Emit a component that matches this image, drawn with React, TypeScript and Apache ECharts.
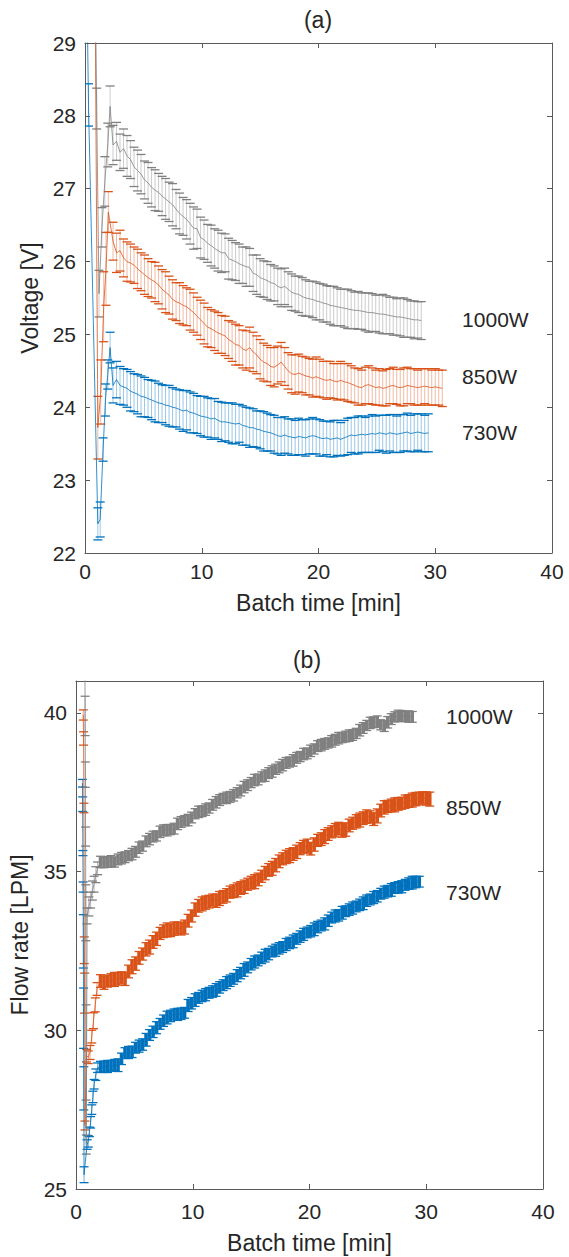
import React, { useEffect, useRef } from "react";
import * as echarts from "echarts";

// ---------- Panel (a): Voltage [V] vs Batch time [min] ----------
const TIME_A = [
  2.4, 2.7, 3.0, 3.3, 3.6, 3.9, 4.2, 4.5, 4.8, 5.1,
  5.4, 5.7, 6.0, 6.3, 6.6, 6.9, 7.2, 7.5, 7.8, 8.1,
  8.4, 8.7, 9.0, 9.3, 9.6, 9.9, 10.2, 10.5, 10.8, 11.1,
  11.4, 11.7, 12.0, 12.3, 12.6, 12.9, 13.2, 13.5, 13.8, 14.1,
  14.4, 14.7, 15.0, 15.3, 15.6, 15.9, 16.2, 16.5, 16.8, 17.1,
  17.4, 17.7, 18.0, 18.3, 18.6, 18.9, 19.2, 19.5, 19.8, 20.1,
  20.4, 20.7, 21.0, 21.3, 21.6, 21.9, 22.2, 22.5, 22.8, 23.1,
  23.4, 23.7, 24.0, 24.3, 24.6, 24.9, 25.2, 25.5, 25.8, 26.1,
  26.4, 26.7, 27.0, 27.3, 27.6, 27.9, 28.2, 28.5, 28.8, 29.1,
  29.4, 29.7, 30.0, 30.3, 30.6,
];

// early transient points: [time, mean, half error]
const V1000_EARLY = [[0.8, 31.0, 0.5], [1.0, 28.1, 0.28], [1.2, 25.56, 0.32], [1.45, 26.47, 0.27], [1.7, 27.1, 0.34], [1.95, 27.6, 0.3], [2.15, 28.13, 0.28]];
const V850_EARLY = [[0.8, 31.5, 0.5], [1.1, 23.72, 0.43], [1.35, 24.21, 0.44], [1.6, 25.38, 0.48], [1.8, 25.9, 0.5], [2.0, 26.68, 0.28]];
const V730_EARLY = [[0.1, 30.5, 0.5], [0.3, 28.15, 0.29], [1.1, 22.4, 0.22], [1.3, 22.46, 0.24], [1.55, 23.42, 0.16], [1.75, 24.1, 0.22], [1.95, 24.45, 0.2], [2.15, 24.82, 0.21]];

const V1000 = [
  27.6, 27.65, 27.5, 27.55, 27.45, 27.4, 27.3, 27.25, 27.2, 27.12,
  27.08, 27.02, 26.98, 26.95, 26.9, 26.86, 26.82, 26.78, 26.72, 26.66,
  26.62, 26.58, 26.52, 26.46, 26.45, 26.33, 26.3, 26.25, 26.22, 26.18,
  26.15, 26.12, 26.12, 26.04, 26.02, 26.0, 25.97, 25.95, 25.93, 25.92,
  25.84, 25.82, 25.78, 25.76, 25.74, 25.71, 25.7, 25.66, 25.64, 25.66,
  25.62, 25.58, 25.56, 25.55, 25.52, 25.5, 25.49, 25.48, 25.46, 25.45,
  25.43, 25.42, 25.4, 25.39, 25.38, 25.37, 25.36, 25.35, 25.34, 25.33,
  25.33, 25.32, 25.31, 25.3, 25.3, 25.29, 25.28, 25.28, 25.27, 25.26,
  25.25, 25.24, 25.24, 25.23, 25.22, 25.21, 25.2, 25.2, 25.19,
];
const V1000_ERR = [
  0.27, 0.26, 0.25, 0.27, 0.28, 0.26, 0.27, 0.28, 0.27, 0.26,
  0.28, 0.27, 0.28, 0.26, 0.27, 0.28, 0.27, 0.29, 0.27, 0.28,
  0.26, 0.27, 0.28, 0.29, 0.27, 0.28, 0.27, 0.26, 0.28, 0.27,
  0.28, 0.27, 0.26, 0.28, 0.27, 0.26, 0.27, 0.25, 0.27, 0.26,
  0.25, 0.27, 0.26, 0.25, 0.26, 0.25, 0.24, 0.25, 0.26, 0.25,
  0.24, 0.25, 0.24, 0.25, 0.26, 0.25, 0.24, 0.25, 0.26, 0.25,
  0.26, 0.25, 0.26, 0.27, 0.26, 0.25, 0.26, 0.27, 0.26, 0.25,
  0.26, 0.25, 0.26, 0.27, 0.26, 0.25, 0.26, 0.27, 0.26, 0.25,
  0.26, 0.25, 0.26, 0.27, 0.26, 0.25, 0.26, 0.25, 0.26,
];
const V850 = [
  26.28, 26.12, 26.15, 26.05, 26.0, 25.98, 25.95, 25.9, 25.86, 25.82,
  25.78, 25.75, 25.72, 25.68, 25.62, 25.58, 25.54, 25.48, 25.45, 25.43,
  25.4, 25.38, 25.34, 25.3, 25.25, 25.2, 25.15, 25.1, 25.08, 25.05,
  25.02, 25.0, 24.98, 24.93, 24.9, 24.86, 24.85, 24.8, 24.78, 24.82,
  24.76, 24.72, 24.66, 24.62, 24.6, 24.56, 24.55, 24.58, 24.62, 24.56,
  24.5, 24.46, 24.45, 24.47, 24.45, 24.43, 24.42, 24.4, 24.42, 24.4,
  24.38, 24.37, 24.38, 24.36, 24.35, 24.37, 24.35, 24.34, 24.32, 24.3,
  24.28, 24.27, 24.3, 24.31, 24.29, 24.27, 24.28, 24.26, 24.27, 24.29,
  24.3, 24.28, 24.27, 24.28, 24.3, 24.29, 24.28, 24.27, 24.28, 24.29,
  24.28, 24.27, 24.28, 24.27, 24.26,
];
const V850_ERR = [
  0.26, 0.27, 0.28, 0.26, 0.27, 0.26, 0.25, 0.27, 0.26, 0.27,
  0.26, 0.25, 0.27, 0.26, 0.27, 0.28, 0.26, 0.27, 0.26, 0.28,
  0.27, 0.26, 0.28, 0.27, 0.26, 0.27, 0.28, 0.27, 0.26, 0.27,
  0.28, 0.26, 0.27, 0.26, 0.27, 0.28, 0.27, 0.26, 0.27, 0.28,
  0.27, 0.26, 0.27, 0.26, 0.25, 0.26, 0.27, 0.26, 0.27, 0.26,
  0.25, 0.26, 0.27, 0.26, 0.25, 0.26, 0.25, 0.26, 0.27, 0.26,
  0.25, 0.26, 0.25, 0.24, 0.25, 0.26, 0.25, 0.26, 0.25, 0.24,
  0.25, 0.24, 0.25, 0.26, 0.25, 0.24, 0.25, 0.24, 0.25, 0.24,
  0.25, 0.24, 0.25, 0.26, 0.25, 0.24, 0.25, 0.24, 0.25, 0.24,
  0.25, 0.24, 0.25, 0.24, 0.25,
];
const V730 = [
  24.3, 24.38, 24.3, 24.28, 24.26, 24.22, 24.2, 24.18, 24.15, 24.14,
  24.12, 24.1, 24.08, 24.06, 24.05, 24.03, 24.02, 24.0, 23.99, 23.97,
  23.95, 23.96, 23.93, 23.92, 23.9, 23.88, 23.87, 23.86, 23.84, 23.85,
  23.82, 23.8, 23.8, 23.79, 23.78, 23.77, 23.78, 23.75, 23.74, 23.72,
  23.72, 23.7, 23.69, 23.67, 23.66, 23.65, 23.63, 23.61, 23.6, 23.62,
  23.6, 23.59, 23.58, 23.6, 23.59, 23.58, 23.6, 23.61, 23.6, 23.58,
  23.57, 23.58, 23.56, 23.57, 23.58, 23.56, 23.58, 23.6, 23.62, 23.61,
  23.62, 23.63, 23.62, 23.63, 23.64, 23.63, 23.65, 23.64, 23.63, 23.65,
  23.64, 23.63, 23.64, 23.65, 23.66, 23.64, 23.65, 23.66, 23.65, 23.64,
  23.65,
];
const V730_ERR = [
  0.24, 0.25, 0.26, 0.25, 0.26, 0.27, 0.26, 0.27, 0.28, 0.27,
  0.26, 0.27, 0.28, 0.27, 0.26, 0.27, 0.28, 0.27, 0.26, 0.27,
  0.28, 0.27, 0.28, 0.27, 0.26, 0.27, 0.28, 0.27, 0.28, 0.27,
  0.26, 0.27, 0.26, 0.27, 0.28, 0.27, 0.26, 0.27, 0.26, 0.27,
  0.26, 0.25, 0.26, 0.27, 0.26, 0.25, 0.26, 0.25, 0.26, 0.25,
  0.24, 0.25, 0.24, 0.25, 0.24, 0.25, 0.24, 0.25, 0.24, 0.25,
  0.24, 0.23, 0.24, 0.25, 0.24, 0.23, 0.24, 0.25, 0.24, 0.25,
  0.26, 0.25, 0.24, 0.25, 0.26, 0.25, 0.24, 0.25, 0.26, 0.25,
  0.26, 0.25, 0.26, 0.25, 0.26, 0.25, 0.26, 0.25, 0.26, 0.25,
  0.26,
];

// ---------- Panel (b): Flow rate [LPM] vs Batch time [min] ----------
const TIME_B = [
  2.1, 2.4, 2.7, 3.0, 3.3, 3.6, 3.9, 4.2, 4.5, 4.8,
  5.1, 5.4, 5.7, 6.0, 6.3, 6.6, 6.9, 7.2, 7.5, 7.8,
  8.1, 8.4, 8.7, 9.0, 9.3, 9.6, 9.9, 10.2, 10.5, 10.8,
  11.1, 11.4, 11.7, 12.0, 12.3, 12.6, 12.9, 13.2, 13.5, 13.8,
  14.1, 14.4, 14.7, 15.0, 15.3, 15.6, 15.9, 16.2, 16.5, 16.8,
  17.1, 17.4, 17.7, 18.0, 18.3, 18.6, 18.9, 19.2, 19.5, 19.8,
  20.1, 20.4, 20.7, 21.0, 21.3, 21.6, 21.9, 22.2, 22.5, 22.8,
  23.1, 23.4, 23.7, 24.0, 24.3, 24.6, 24.9, 25.2, 25.5, 25.8,
  26.1, 26.4, 26.7, 27.0, 27.3, 27.6, 27.9, 28.2, 28.5, 28.8,
  29.1, 29.4, 29.7, 30.0, 30.3,
];
const F1000_EARLY = [[0.76, 42.0, 0.4], [0.78, 39.9, 0.62], [0.8, 38.05, 0.4], [0.82, 36.1, 0.3], [0.84, 33.7, 0.88], [0.86, 29.3, 1.5], [0.88, 26.4, 0.3], [0.95, 33.6, 0.25], [1.1, 33.9, 0.3], [1.25, 34.1, 0.25], [1.4, 34.4, 0.3], [1.55, 34.6, 0.25], [1.7, 34.9, 0.25], [1.85, 35.1, 0.2]];
const F850_EARLY = [[0.62, 39.93, 0.16], [0.65, 39.19, 0.21], [0.68, 37.0, 0.15], [0.71, 32.52, 0.42], [0.74, 31.17, 0.63], [0.77, 27.0, 0.14], [0.9, 29.2, 0.2], [1.05, 29.15, 0.2], [1.2, 29.3, 0.22], [1.35, 29.8, 0.2], [1.5, 30.3, 0.25], [1.65, 30.8, 0.22], [1.8, 31.3, 0.2]];
const F730_EARLY = [[0.55, 37.78, 0.12], [0.57, 37.12, 0.23], [0.59, 35.58, 0.08], [0.61, 34.51, 0.16], [0.63, 32.8, 0.84], [0.65, 30.38, 0.95], [0.67, 28.17, 0.68], [0.69, 25.45, 0.25], [0.95, 26.4, 0.15], [1.05, 26.5, 0.18], [1.15, 26.8, 0.15], [1.25, 27.1, 0.18], [1.35, 27.5, 0.15], [1.45, 27.9, 0.18], [1.55, 28.3, 0.15], [1.7, 28.6, 0.18], [1.85, 28.82, 0.15]];

const F1000 = [
  35.3, 35.28, 35.3, 35.32, 35.3, 35.38, 35.42, 35.45, 35.5, 35.55,
  35.62, 35.75, 35.8, 35.95, 36.02, 36.1, 36.12, 36.25, 36.3, 36.3,
  36.32, 36.35, 36.5, 36.56, 36.6, 36.62, 36.7, 36.82, 36.88, 36.9,
  36.95, 37.0, 37.1, 37.18, 37.25, 37.3, 37.32, 37.35, 37.4, 37.48,
  37.55, 37.66, 37.72, 37.8, 37.88, 37.9, 37.98, 38.02, 38.1, 38.15,
  38.22, 38.28, 38.35, 38.42, 38.45, 38.5, 38.58, 38.62, 38.7, 38.72,
  38.8, 38.86, 38.95, 38.98, 39.02, 39.05, 39.1, 39.15, 39.2, 39.22,
  39.25, 39.28, 39.3, 39.35, 39.45, 39.52, 39.6, 39.68, 39.7, 39.72,
  39.62, 39.58, 39.7, 39.8, 39.87, 39.9, 39.9, 39.88, 39.88, 39.87,
];
const F1000_ERR = [
  0.18, 0.16, 0.17, 0.18, 0.16, 0.17, 0.18, 0.17, 0.16, 0.18,
  0.17, 0.18, 0.16, 0.17, 0.18, 0.17, 0.16, 0.18, 0.17, 0.18,
  0.16, 0.17, 0.18, 0.17, 0.16, 0.18, 0.17, 0.16, 0.18, 0.17,
  0.18, 0.16, 0.17, 0.18, 0.17, 0.16, 0.18, 0.17, 0.18, 0.16,
  0.17, 0.18, 0.17, 0.16, 0.18, 0.17, 0.16, 0.18, 0.17, 0.18,
  0.16, 0.17, 0.18, 0.17, 0.16, 0.18, 0.17, 0.16, 0.18, 0.17,
  0.18, 0.16, 0.17, 0.18, 0.17, 0.16, 0.18, 0.17, 0.18, 0.16,
  0.17, 0.18, 0.17, 0.16, 0.18, 0.17, 0.16, 0.18, 0.17, 0.18,
  0.16, 0.17, 0.18, 0.17, 0.16, 0.18, 0.17, 0.16, 0.18, 0.17,
];
const F850 = [
  31.55, 31.5, 31.55, 31.58, 31.6, 31.62, 31.65, 31.62, 31.85, 32.0,
  32.1, 32.28, 32.4, 32.55, 32.62, 32.78, 32.88, 33.05, 33.12, 33.16,
  33.15, 33.2, 33.22, 33.2, 33.25, 33.45, 33.6, 33.8, 33.92, 33.98,
  34.02, 34.05, 34.1, 34.08, 34.15, 34.2, 34.25, 34.35, 34.38, 34.42,
  34.48, 34.52, 34.6, 34.65, 34.68, 34.75, 34.85, 34.95, 35.05, 35.1,
  35.2, 35.32, 35.4, 35.46, 35.5, 35.55, 35.62, 35.72, 35.78, 35.8,
  35.72, 35.85, 35.98, 36.02, 36.1, 36.18, 36.25, 36.3, 36.35, 36.3,
  36.32, 36.45, 36.52, 36.58, 36.62, 36.68, 36.73, 36.72, 36.65, 36.75,
  36.92, 37.02, 37.05, 37.08, 37.1, 37.13, 37.15, 37.2, 37.22, 37.25,
  37.28, 37.3, 37.32, 37.3, 37.28,
];
const F850_ERR = [
  0.2, 0.21, 0.19, 0.2, 0.22, 0.2, 0.19, 0.21, 0.2, 0.22,
  0.21, 0.2, 0.19, 0.21, 0.22, 0.2, 0.21, 0.19, 0.2, 0.22,
  0.2, 0.21, 0.19, 0.2, 0.22, 0.2, 0.19, 0.21, 0.2, 0.22,
  0.21, 0.2, 0.19, 0.21, 0.22, 0.2, 0.21, 0.19, 0.2, 0.22,
  0.2, 0.21, 0.19, 0.2, 0.22, 0.2, 0.19, 0.21, 0.2, 0.22,
  0.21, 0.2, 0.19, 0.21, 0.22, 0.2, 0.21, 0.19, 0.2, 0.22,
  0.2, 0.21, 0.19, 0.2, 0.22, 0.2, 0.19, 0.21, 0.2, 0.22,
  0.21, 0.2, 0.19, 0.21, 0.22, 0.2, 0.21, 0.19, 0.2, 0.22,
  0.2, 0.21, 0.19, 0.2, 0.22, 0.2, 0.19, 0.21, 0.2, 0.22,
  0.21, 0.2, 0.19, 0.21, 0.22,
];
const F730 = [
  28.85, 28.85, 28.86, 28.88, 28.9, 28.9, 29.1, 29.28, 29.3, 29.32,
  29.45, 29.5, 29.55, 29.7, 29.85, 29.95, 30.08, 30.2, 30.3, 30.4,
  30.45, 30.5, 30.5, 30.52, 30.55, 30.78, 30.85, 30.95, 31.02, 31.08,
  31.12, 31.18, 31.22, 31.27, 31.35, 31.42, 31.5, 31.56, 31.62, 31.72,
  31.8, 31.9, 31.98, 32.08, 32.15, 32.2, 32.28, 32.35, 32.4, 32.48,
  32.52, 32.58, 32.62, 32.7, 32.75, 32.8, 32.88, 32.95, 33.02, 33.08,
  33.12, 33.18, 33.25, 33.3, 33.35, 33.45, 33.55, 33.6, 33.62, 33.7,
  33.75, 33.8, 33.85, 33.9, 33.95, 34.0, 34.08, 34.12, 34.18, 34.22,
  34.3, 34.35, 34.38, 34.42, 34.48, 34.5, 34.52, 34.58, 34.62, 34.65,
  34.67, 34.68,
];
const F730_ERR = [
  0.17, 0.18, 0.19, 0.17, 0.18, 0.2, 0.18, 0.17, 0.19, 0.18,
  0.17, 0.19, 0.18, 0.2, 0.17, 0.18, 0.19, 0.17, 0.18, 0.2,
  0.18, 0.17, 0.19, 0.18, 0.17, 0.19, 0.18, 0.2, 0.17, 0.18,
  0.19, 0.17, 0.18, 0.2, 0.18, 0.17, 0.19, 0.18, 0.17, 0.19,
  0.18, 0.2, 0.17, 0.18, 0.19, 0.17, 0.18, 0.2, 0.18, 0.17,
  0.19, 0.18, 0.17, 0.19, 0.18, 0.2, 0.17, 0.18, 0.19, 0.17,
  0.18, 0.2, 0.18, 0.17, 0.19, 0.18, 0.17, 0.19, 0.18, 0.2,
  0.17, 0.18, 0.19, 0.17, 0.18, 0.2, 0.18, 0.17, 0.19, 0.18,
  0.17, 0.19, 0.18, 0.2, 0.17, 0.18, 0.19, 0.17, 0.18, 0.2,
  0.18, 0.17,
];

// Labels and annotation anchors (data coordinates)
const X_TICKS = { min: 0, max: 40, interval: 10 };
const POWER_LABELS = ["1000W", "850W", "730W"];
const LABEL_POS_A = [[32.3, 25.2], [32.3, 24.42], [32.3, 23.65]];
const LABEL_POS_B = [[31.7, 39.87], [31.7, 37.03], [31.7, 34.35]];

const GRAY = "#808080";
const ORANGE = "#D95319";
const BLUE = "#0072BD";
const FONT = "'Liberation Sans', Arial, Helvetica, sans-serif";
const TXT = "#262626";
const AXC = "#5a5a5a";
const TICK_FS = 21;
const LABEL_FS = 23;

function bulk(times: number[], vals: number[], errs: number[]) {
  const n = Math.min(times.length, vals.length, errs.length);
  const out: number[][] = [];
  for (let i = 0; i < n; i++) out.push([times[i], vals[i], errs[i]]);
  return out;
}

function errRender(color: string, capW: number, vWidth: number, vOpacity: number) {
  return (_params: any, api: any) => {
    const t = api.value(0);
    const v = api.value(1);
    const e = api.value(2);
    const hi = api.coord([t, v + e]);
    const lo = api.coord([t, v - e]);
    const h = capW / 2;
    return {
      type: "group",
      children: [
        { type: "line", shape: { x1: hi[0], y1: hi[1], x2: lo[0], y2: lo[1] }, style: { stroke: color, lineWidth: vWidth, opacity: vOpacity } },
        { type: "line", shape: { x1: hi[0] - h, y1: hi[1], x2: hi[0] + h, y2: hi[1] }, style: { stroke: color, lineWidth: 1.3 } },
        { type: "line", shape: { x1: lo[0] - h, y1: lo[1], x2: lo[0] + h, y2: lo[1] }, style: { stroke: color, lineWidth: 1.3 } },
      ],
    };
  };
}

function errSeries(data: number[][], color: string, axis: number, capW: number, vWidth: number, vOpacity: number) {
  return {
    type: "custom",
    xAxisIndex: axis,
    yAxisIndex: axis,
    data,
    clip: true,
    silent: true,
    encode: { x: 0, y: 1 },
    renderItem: errRender(color, capW, vWidth, vOpacity),
    z: 2,
  };
}

function meanSeries(data: number[][], color: string, axis: number) {
  return {
    type: "line",
    xAxisIndex: axis,
    yAxisIndex: axis,
    data: data.map((d) => [d[0], d[1]]),
    showSymbol: false,
    symbol: "none",
    clip: true,
    silent: true,
    lineStyle: { color, width: 0.8 },
    z: 3,
  };
}

function xAxisCfg(grid: number, pos: string, main: boolean, labelMargin: number, nameGap: number) {
  return {
    type: "value",
    gridIndex: grid,
    position: pos,
    ...X_TICKS,
    axisLine: { show: true, onZero: false, lineStyle: { color: AXC, width: 1 } },
    axisTick: { show: true, inside: true, length: 5, lineStyle: { color: AXC, width: 1 } },
    axisLabel: { show: main, color: TXT, fontFamily: FONT, fontSize: TICK_FS, margin: labelMargin },
    splitLine: { show: false },
    name: main ? "Batch time [min]" : "",
    nameLocation: "middle",
    nameGap,
    nameTextStyle: { color: TXT, fontFamily: FONT, fontSize: LABEL_FS },
  };
}

function yAxisCfg(grid: number, pos: string, main: boolean, min: number, max: number, interval: number, name: string, nameGap: number) {
  return {
    type: "value",
    gridIndex: grid,
    position: pos,
    min,
    max,
    interval,
    axisLine: { show: true, onZero: false, lineStyle: { color: AXC, width: 1 } },
    axisTick: { show: true, inside: true, length: 5, lineStyle: { color: AXC, width: 1 } },
    axisLabel: { show: main, color: TXT, fontFamily: FONT, fontSize: TICK_FS, margin: 9, showMaxLabel: max % interval === 0 },
    splitLine: { show: false },
    name: main ? name : "",
    nameLocation: "middle",
    nameGap,
    nameTextStyle: { color: TXT, fontFamily: FONT, fontSize: LABEL_FS },
  };
}

function textEl(x: number, y: number, text: string, align: string, size: number) {
  return {
    type: "text",
    x,
    y,
    silent: true,
    style: {
      text,
      fill: TXT,
      fontFamily: FONT,
      fontSize: size,
      textAlign: align,
      align,
      textVerticalAlign: "middle",
      verticalAlign: "middle",
    },
  };
}

export default function App() {
  const ref = useRef<HTMLDivElement>(null);
  useEffect(() => {
    document.body.style.margin = "0";
    const chart = echarts.init(ref.current as HTMLDivElement, null, { renderer: "svg" });

    const a1000 = V1000_EARLY.concat(bulk(TIME_A, V1000, V1000_ERR));
    const a850 = V850_EARLY.concat(bulk(TIME_A, V850, V850_ERR));
    const a730 = V730_EARLY.concat(bulk(TIME_A, V730, V730_ERR));
    const b1000 = bulk(TIME_B, F1000, F1000_ERR);
    const b850 = bulk(TIME_B, F850, F850_ERR);
    const b730 = bulk(TIME_B, F730, F730_ERR);

    const option: any = {
      animation: false,
      backgroundColor: "#ffffff",
      grid: [
        { left: 85, top: 43, width: 467, height: 510, containLabel: false },
        { left: 72, top: 681, width: 471, height: 508, containLabel: false },
      ],
      xAxis: [
        xAxisCfg(0, "bottom", true, 8, 38),
        xAxisCfg(0, "top", false, 8, 38),
        xAxisCfg(1, "bottom", true, 12, 42),
        xAxisCfg(1, "top", false, 12, 42),
      ],
      yAxis: [
        yAxisCfg(0, "left", true, 22, 29, 1, "Voltage [V]", 38),
        yAxisCfg(0, "right", false, 22, 29, 1, "", 0),
        yAxisCfg(1, "left", true, 25, 41, 5, "Flow rate [LPM]", 45),
        yAxisCfg(1, "right", false, 25, 41, 5, "", 0),
      ],
      series: [
        errSeries(a730, BLUE, 0, 9, 0.8, 0.5),
        meanSeries(a730, BLUE, 0),
        errSeries(a850, ORANGE, 0, 9, 0.8, 0.5),
        meanSeries(a850, ORANGE, 0),
        errSeries(a1000, GRAY, 0, 9, 0.8, 0.5),
        meanSeries(a1000, GRAY, 0),

        errSeries(F730_EARLY, BLUE, 2, 9, 0.8, 0.7),
        errSeries(b730, BLUE, 2, 9, 3.6, 1),
        meanSeries(F730_EARLY.concat(b730), BLUE, 2),
        errSeries(F850_EARLY, ORANGE, 2, 9, 0.8, 0.7),
        errSeries(b850, ORANGE, 2, 9, 3.6, 1),
        meanSeries(F850_EARLY.concat(b850), ORANGE, 2),
        errSeries(F1000_EARLY, GRAY, 2, 9, 0.8, 0.7),
        errSeries(b1000, GRAY, 2, 9, 3.6, 1),
        meanSeries(F1000_EARLY.concat(b1000), GRAY, 2),
      ],
    };
    chart.setOption(option);

    const labels: any[] = [
      textEl(318, 20, "(a)", "center", LABEL_FS),
      textEl(307, 660, "(b)", "center", LABEL_FS),
    ];
    POWER_LABELS.forEach((txt, i) => {
      const pa = chart.convertToPixel({ gridIndex: 0 } as any, LABEL_POS_A[i]) as number[];
      const pb = chart.convertToPixel({ gridIndex: 1 } as any, LABEL_POS_B[i]) as number[];
      labels.push(textEl(pa[0], pa[1], txt, "left", TICK_FS));
      labels.push(textEl(pb[0], pb[1], txt, "left", TICK_FS));
    });
    chart.setOption({ graphic: labels });

    return () => chart.dispose();
  }, []);
  return <div ref={ref} style={{ width: 569, height: 1257 }} />;
}
